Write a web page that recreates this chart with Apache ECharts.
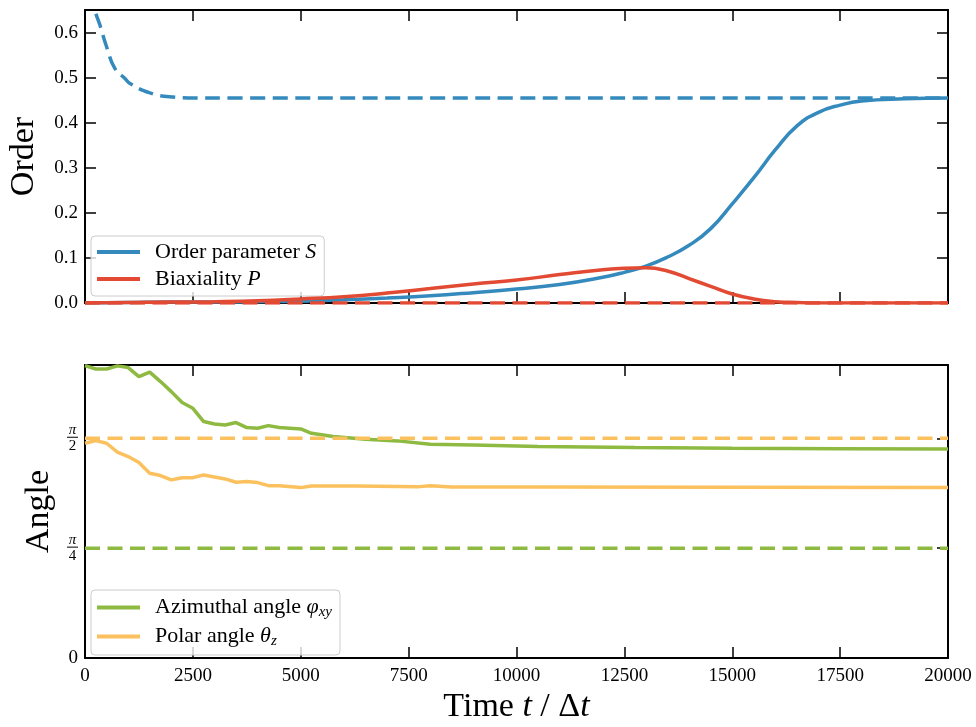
<!DOCTYPE html>
<html>
<head>
<meta charset="utf-8">
<title>Order and angle evolution</title>
<script src="https://cdn.jsdelivr.net/npm/echarts@6/dist/echarts.min.js"></script>
<style>
  html, body { margin: 0; padding: 0; background: #fff; }
  #chart { width: 976px; height: 727px; }
</style>
</head>
<body>
<div id="chart"></div>
<script>
// ---- data ----
// time samples for the order parameters
const timeOrder = [0, 1000, 2000, 3000, 4000, 5000, 6000, 7000, 8000, 9000, 10000, 11000, 12000,
  12500, 13000, 13500, 14000, 14500, 15000, 15500, 16000, 16500, 17000, 17500, 18000, 19000, 20000];
const orderS = [0.000, 0.001, 0.002, 0.002, 0.003, 0.004, 0.007, 0.011, 0.016, 0.023, 0.031, 0.041, 0.057,
  0.068, 0.082, 0.102, 0.128, 0.165, 0.220, 0.278, 0.340, 0.393, 0.423, 0.439, 0.448, 0.453, 0.455];
const biaxP = [0.000, 0.001, 0.002, 0.003, 0.005, 0.009, 0.014, 0.022, 0.032, 0.042, 0.051, 0.063, 0.074,
  0.077, 0.078, 0.071, 0.054, 0.037, 0.020, 0.009, 0.003, 0.001, 0.000, 0.000, 0.000, 0.000, 0.000];

// equilibrium order parameter (dashed)
const timeEq = [0, 116, 232, 348, 502, 695, 927, 1043, 1506, 2040, 2595, 3500, 20000];
const orderEq = [0.79, 0.711, 0.650, 0.616, 0.568, 0.520, 0.498, 0.487, 0.466, 0.457, 0.455, 0.455, 0.455];
const biaxEq = 0;

// director angles
const timePhi = [0, 250, 500, 750, 1000, 1250, 1500, 1750, 2000, 2250, 2500, 2750, 3000, 3250, 3500,
  3750, 4000, 4250, 4500, 5000, 5250, 5750, 6500, 7250, 8000, 9000, 10500, 12750, 15000, 17500, 20000];
const phiXY = [2.090, 2.066, 2.066, 2.088, 2.076, 2.011, 2.043, 1.976, 1.904, 1.826, 1.785, 1.690, 1.673,
  1.666, 1.683, 1.647, 1.642, 1.661, 1.647, 1.637, 1.606, 1.583, 1.564, 1.552, 1.528, 1.523, 1.511,
  1.504, 1.499, 1.496, 1.494];
const timeTheta = [0, 250, 500, 750, 1000, 1250, 1500, 1750, 2000, 2250, 2500, 2750, 3000, 3250, 3500,
  3750, 4000, 4250, 4500, 5000, 5250, 6250, 7750, 8000, 8500, 10500, 15000, 20000];
const thetaZ = [1.535, 1.554, 1.535, 1.471, 1.440, 1.397, 1.321, 1.304, 1.273, 1.289, 1.289, 1.308, 1.294,
  1.280, 1.256, 1.261, 1.254, 1.232, 1.232, 1.218, 1.230, 1.230, 1.225, 1.232, 1.223, 1.223, 1.221, 1.218];
const phiRef = Math.PI / 4;
const thetaRef = Math.PI / 2;

const tMin = 0, tMax = 20000, tStep = 2500;

// ---- styling ----
const FONT = '"Liberation Serif", "DejaVu Serif", serif';
const C_BLUE = '#348ABD', C_RED = '#E24A33', C_GREEN = '#8EBA42', C_ORANGE = '#FBC15E';
const LW = 3.5;
const DASH = [15, 7.5];

const zip = (xs, ys) => xs.map((x, i) => [x, ys[i]]);
const flat = v => [[tMin, v], [tMax, v]];

const spine = { show: true, onZero: false, lineStyle: { color: '#000', width: 2 } };
const ticks = { show: true, inside: true, length: 11, lineStyle: { color: '#000', width: 1.5 } };
const tickFont = { color: '#000', fontFamily: FONT, fontSize: 19 };

function xAxis(grid, pos, labels, name) {
  const ax = {
    type: 'value', gridIndex: grid, position: pos, min: tMin, max: tMax, interval: tStep,
    axisLine: spine, axisTick: ticks, splitLine: { show: false },
    axisLabel: Object.assign({ show: labels, margin: 9, formatter: v => String(v) }, tickFont)
  };
  if (name) {
    ax.name = name.text;
    ax.nameLocation = 'middle';
    ax.nameGap = 32;
    ax.nameTextStyle = { fontFamily: FONT, color: '#000', rich: name.rich };
  }
  return ax;
}

function fraction(d) { return '{n|π}\n{bar|}\n{d|' + d + '}'; }

const option = {
  animation: false,
  backgroundColor: '#fff',
  grid: [
    { left: 85, right: 28, top: 10, height: 293, outerBoundsMode: 'none', containLabel: false },
    { left: 85, right: 28, top: 365, height: 293, outerBoundsMode: 'none', containLabel: false }
  ],
  xAxis: [
    xAxis(0, 'bottom', false),
    xAxis(0, 'top', false),
    xAxis(1, 'bottom', true, {
      text: '{r|Time }{i|t}{r| / Δ}{i|t}',
      rich: {
        r: { fontFamily: FONT, fontSize: 34, color: '#000' },
        i: { fontFamily: FONT, fontSize: 34, fontStyle: 'italic', color: '#000' }
      }
    }),
    xAxis(1, 'top', false)
  ],
  yAxis: [
    {
      type: 'value', gridIndex: 0, position: 'left', min: 0, max: 0.65, interval: 0.1,
      axisLine: spine, axisTick: ticks, splitLine: { show: false },
      axisLabel: Object.assign({ margin: 7, formatter: v => (Math.abs(v * 10 - Math.round(v * 10)) < 1e-6 ? v.toFixed(1) : '') }, tickFont),
      name: 'Order', nameLocation: 'middle', nameGap: 44, nameRotate: 90,
      nameTextStyle: { fontFamily: FONT, fontSize: 34, color: '#000' }
    },
    {
      type: 'value', gridIndex: 0, position: 'right', min: 0, max: 0.65, interval: 0.1,
      axisLine: spine, axisTick: ticks, splitLine: { show: false }, axisLabel: { show: false }
    },
    {
      type: 'value', gridIndex: 1, position: 'left', min: 0, max: 2 * Math.PI / 3, interval: Math.PI / 4,
      axisLine: spine, axisTick: ticks, splitLine: { show: false },
      axisLabel: Object.assign({
        margin: 7,
        formatter: v => {
          if (Math.abs(v) < 1e-9) return '0';
          if (Math.abs(v - Math.PI / 4) < 1e-6) return fraction(4);
          if (Math.abs(v - Math.PI / 2) < 1e-6) return fraction(2);
          return '';
        },
        rich: {
          n: { fontFamily: FONT, fontSize: 15, fontStyle: 'italic', color: '#000', align: 'center', lineHeight: 12 },
          bar: { width: 11, height: 1, lineHeight: 3, backgroundColor: '#000', align: 'center' },
          d: { fontFamily: FONT, fontSize: 15, color: '#000', align: 'center', lineHeight: 14 }
        }
      }, tickFont),
      name: 'Angle', nameLocation: 'middle', nameGap: 28, nameRotate: 90,
      nameTextStyle: { fontFamily: FONT, fontSize: 34, color: '#000' }
    },
    {
      type: 'value', gridIndex: 1, position: 'right', min: 0, max: 2 * Math.PI / 3, interval: Math.PI / 4,
      axisLine: spine, axisTick: ticks, splitLine: { show: false }, axisLabel: { show: false }
    }
  ],
  legend: [
    {
      data: ['Order parameter S', 'Biaxiality P'],
      left: 91, top: 236, orient: 'vertical',
      icon: 'rect', itemWidth: 43, itemHeight: 4, itemGap: 5,
      padding: [5, 8, 6, 6],
      borderColor: '#cccccc', borderWidth: 1, borderRadius: 4,
      backgroundColor: 'rgba(255,255,255,0.8)',
      formatter: n => n === 'Order parameter S' ? '{r|Order parameter }{i|S}' : '{r|Biaxiality }{i|P}',
      textStyle: {
        padding: [0, 0, 0, 10],
        rich: {
          r: { fontFamily: FONT, fontSize: 22, color: '#000', lineHeight: 22 },
          i: { fontFamily: FONT, fontSize: 22, fontStyle: 'italic', color: '#000', lineHeight: 22 }
        }
      }
    },
    {
      data: ['Azimuthal angle', 'Polar angle'],
      left: 91, top: 590, orient: 'vertical',
      icon: 'rect', itemWidth: 43, itemHeight: 4, itemGap: 4,
      padding: [5, 8, 6, 6],
      borderColor: '#cccccc', borderWidth: 1, borderRadius: 4,
      backgroundColor: 'rgba(255,255,255,0.8)',
      formatter: n => n === 'Azimuthal angle' ? '{r|Azimuthal angle }{i|φ}{s|xy}' : '{r|Polar angle }{i|θ}{s|z}',
      textStyle: {
        padding: [0, 0, 0, 10],
        rich: {
          r: { fontFamily: FONT, fontSize: 22, color: '#000', lineHeight: 22 },
          i: { fontFamily: FONT, fontSize: 22, fontStyle: 'italic', color: '#000', lineHeight: 22 },
          s: { fontFamily: FONT, fontSize: 15, fontStyle: 'italic', color: '#000', lineHeight: 22, padding: [10, 0, 0, 0] }
        }
      }
    }
  ],
  series: [
    {
      name: 'Order parameter S', type: 'line', xAxisIndex: 0, yAxisIndex: 0,
      data: zip(timeOrder, orderS), smooth: 0.5, showSymbol: false,
      lineStyle: { color: C_BLUE, width: LW }, itemStyle: { color: C_BLUE }, z: 3
    },
    {
      name: 'Biaxiality P', type: 'line', xAxisIndex: 0, yAxisIndex: 0,
      data: zip(timeOrder, biaxP), smooth: 0.5, showSymbol: false,
      lineStyle: { color: C_RED, width: LW }, itemStyle: { color: C_RED }, z: 4
    },
    {
      name: 'S equilibrium', type: 'line', xAxisIndex: 0, yAxisIndex: 0,
      data: zip(timeEq, orderEq), smooth: 0.5, showSymbol: false,
      lineStyle: { color: C_BLUE, width: LW, type: DASH }, z: 5
    },
    {
      name: 'P equilibrium', type: 'line', xAxisIndex: 0, yAxisIndex: 0,
      data: flat(biaxEq), showSymbol: false,
      lineStyle: { color: C_RED, width: LW, type: DASH }, z: 5
    },
    {
      name: 'Azimuthal angle', type: 'line', xAxisIndex: 2, yAxisIndex: 2,
      data: zip(timePhi, phiXY), showSymbol: false,
      lineStyle: { color: C_GREEN, width: LW }, itemStyle: { color: C_GREEN }, z: 3
    },
    {
      name: 'Polar angle', type: 'line', xAxisIndex: 2, yAxisIndex: 2,
      data: zip(timeTheta, thetaZ), showSymbol: false,
      lineStyle: { color: C_ORANGE, width: LW }, itemStyle: { color: C_ORANGE }, z: 4
    },
    {
      name: 'φ reference', type: 'line', xAxisIndex: 2, yAxisIndex: 2,
      data: flat(phiRef), showSymbol: false,
      lineStyle: { color: C_GREEN, width: LW, type: DASH }, z: 5
    },
    {
      name: 'θ reference', type: 'line', xAxisIndex: 2, yAxisIndex: 2,
      data: flat(thetaRef), showSymbol: false,
      lineStyle: { color: C_ORANGE, width: LW, type: DASH }, z: 5
    }
  ]
};

const chart = echarts.init(document.getElementById('chart'), null, { renderer: 'canvas' });
chart.setOption(option);
</script>
</body>
</html>
